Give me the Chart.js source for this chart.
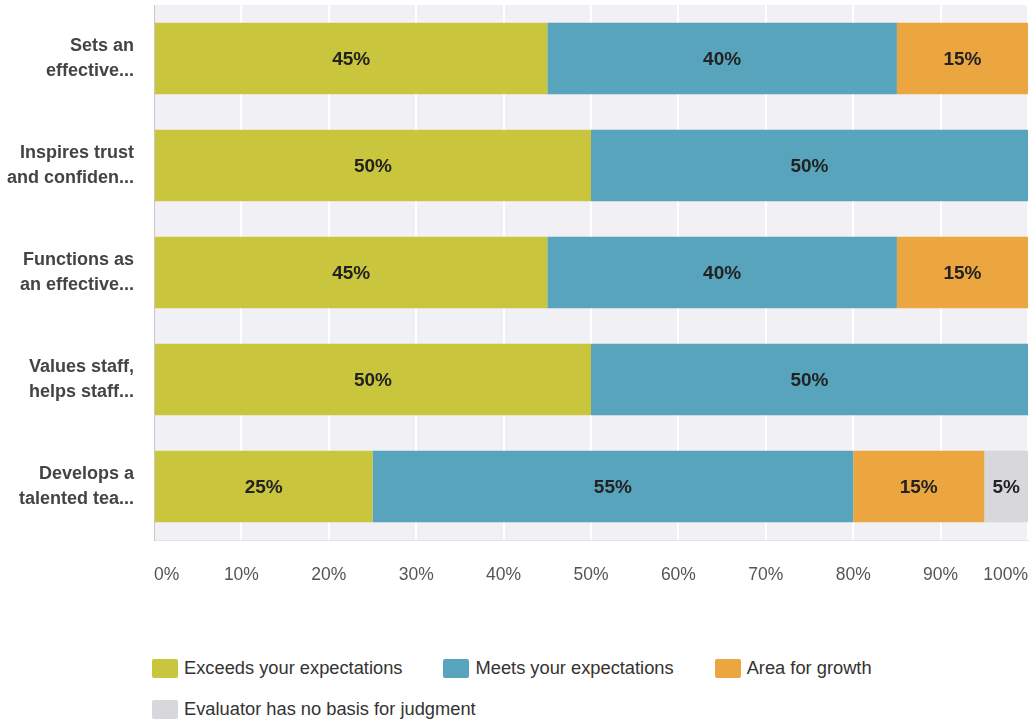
<!DOCTYPE html>
<html>
<head>
<meta charset="utf-8">
<script src="https://cdn.jsdelivr.net/npm/chart.js@4"></script>
<style>
  body { margin: 0; background: #fff; font-family: Arial, "Liberation Sans", sans-serif; }
  #wrap { position: relative; width: 1030px; height: 721px; }
  #chart-box { position: absolute; left: 0; top: 0; width: 1030px; height: 600px; }
  #legend { position: absolute; left: 152px; top: 655px; width: 870px; }
  .row { display: flex; align-items: center; height: 26px; margin-bottom: 15px; }
  .item { display: flex; align-items: center; margin-right: 41px; font-size: 18.3px; color: #333; }
  .box { width: 26px; height: 19px; border-radius: 2px; margin-right: 6px; }
</style>
</head>
<body>
<div id="wrap">
  <div id="chart-box"><canvas id="chart"></canvas></div>
  <div id="legend"></div>
</div>
<script>
// Categories (y axis), one array per answer
const categories = [
  ['Sets an', 'effective...'],
  ['Inspires trust', 'and confiden...'],
  ['Functions as', 'an effective...'],
  ['Values staff,', 'helps staff...'],
  ['Develops a', 'talented tea...']
];
const exceeds = [45, 50, 45, 50, 25];
const meets = [40, 50, 40, 50, 55];
const growth = [15, 0, 15, 0, 15];
const noBasis = [0, 0, 0, 0, 5];
const seriesNames = ['Exceeds your expectations', 'Meets your expectations', 'Area for growth', 'Evaluator has no basis for judgment'];
const seriesColors = ['#c9c53c', '#57a4bc', '#eca63f', '#d8d8dc'];
const xTicks = [0, 10, 20, 30, 40, 50, 60, 70, 80, 90, 100];

// light plot background behind the white grid lines
const plotBg = {
  id: 'plotBg',
  beforeDraw(chart) {
    const a = chart.chartArea;
    const ctx = chart.ctx;
    ctx.save();
    ctx.fillStyle = '#f1f1f5';
    ctx.fillRect(a.left, a.top, a.right - a.left, a.bottom - a.top);
    ctx.restore();
  }
};

// percent labels in the middle of each segment
const segLabels = {
  id: 'segLabels',
  afterDatasetsDraw(chart) {
    const ctx = chart.ctx;
    ctx.save();
    ctx.font = 'bold 19px Arial, "Liberation Sans", sans-serif';
    ctx.fillStyle = '#222';
    ctx.textAlign = 'center';
    ctx.textBaseline = 'middle';
    chart.data.datasets.forEach((ds, i) => {
      const meta = chart.getDatasetMeta(i);
      meta.data.forEach((bar, j) => {
        const v = ds.data[j];
        if (!v) return;
        ctx.fillText(v + '%', (bar.x + bar.base) / 2, bar.y + 1);
      });
    });
    ctx.restore();
  }
};

const chart = new Chart(document.getElementById('chart'), {
  type: 'bar',
  data: {
    labels: categories,
    datasets: [exceeds, meets, growth, noBasis].map((d, i) => ({
      label: seriesNames[i],
      data: d,
      backgroundColor: seriesColors[i],
      borderWidth: 0,
      barPercentage: 0.67,
      categoryPercentage: 1
    }))
  },
  options: {
    indexAxis: 'y',
    responsive: true,
    maintainAspectRatio: false,
    animation: false,
    layout: { padding: { top: 5, right: 2, left: 0, bottom: 0 } },
    plugins: {
      legend: { display: false },
      tooltip: { enabled: false }
    },
    scales: {
      x: {
        stacked: true,
        min: 0,
        max: 100,
        afterBuildTicks(scale) {
          scale.ticks = xTicks.map(v => ({ value: v }));
        },
        afterFit(scale) {
          scale.height = 60;
          scale.paddingLeft = 0;
          scale.paddingRight = 0;
        },
        grid: { color: '#ffffff', lineWidth: 2, drawTicks: false },
        border: { display: true, color: '#e2e2e6' },
        ticks: {
          align: 'inner',
          padding: 25,
          color: '#555',
          font: { size: 17.5, family: 'Arial, "Liberation Sans", sans-serif' },
          callback: v => v + '%'
        }
      },
      y: {
        stacked: true,
        afterFit(scale) {
          scale.width = 154;
          scale.paddingTop = 0;
          scale.paddingBottom = 0;
        },
        grid: { display: false },
        border: { display: true, color: '#c8c8cc' },
        ticks: {
          padding: 12,
          color: '#444',
          font: { size: 18, weight: 'bold', family: 'Arial, "Liberation Sans", sans-serif', lineHeight: 1.4 }
        }
      }
    }
  },
  plugins: [plotBg, segLabels]
});

// legend built from the datasets
const legend = document.getElementById('legend');
const rows = [[0, 1, 2], [3]];
rows.forEach(r => {
  const row = document.createElement('div');
  row.className = 'row';
  r.forEach(i => {
    const ds = chart.data.datasets[i];
    const item = document.createElement('div');
    item.className = 'item';
    item.innerHTML = `<span class="box" style="background:${ds.backgroundColor}"></span><span>${ds.label}</span>`;
    row.appendChild(item);
  });
  legend.appendChild(row);
});
</script>
</body>
</html>
